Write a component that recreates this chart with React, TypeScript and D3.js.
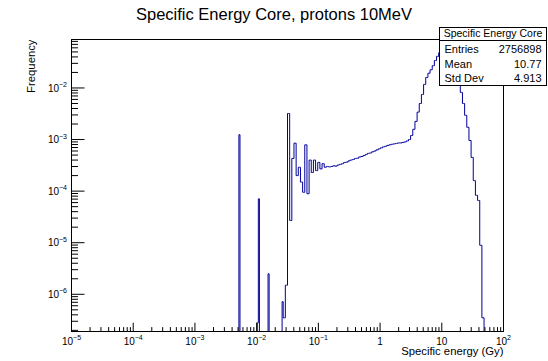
import React from "react";
import * as d3 from "d3";

const TITLE = "Specific Energy Core, protons 10MeV";
const X_TITLE = "Specific energy (Gy)";
const Y_TITLE = "Frequency";
const X_RANGE: [number, number] = [1e-5, 1e2];
const Y_RANGE: [number, number] = [1.9e-7, 0.087];
const N_BINS = 400;
const X_DECADES = [-5, -4, -3, -2, -1, 0, 1, 2];
const Y_DECADES = [-6, -5, -4, -3, -2];
const SPIKE_BINS = [155, 172, 173, 182, 195];
const SPIKE_VALUES = [1.24e-3, 2.8e-7, 7.1e-5, 2.5e-6, 7.2e-7];
const MAIN_FIRST_BIN = 196;
const MAIN_BIN_GROUP = 2;
const MAIN_VALUES = [
  3.5e-7, 1.5e-6, 3.2e-3, 2.7e-5, 4.3e-4, 8.5e-4, 2.0e-4, 2.9e-4, 1.5e-4, 9.5e-5,
  7.9e-4, 8.9e-5, 4.0e-4, 2.3e-4, 4.0e-4, 2.5e-4, 3.6e-4, 2.7e-4, 3.4e-4, 2.9e-4,
  3.0e-4, 2.95e-4, 3.0e-4, 3.1e-4, 3.05e-4, 3.2e-4, 3.3e-4, 3.4e-4, 3.6e-4, 3.65e-4,
  3.85e-4, 4.0e-4, 4.1e-4, 4.3e-4, 4.35e-4, 4.6e-4, 4.7e-4, 4.9e-4, 5.15e-4, 5.4e-4,
  5.5e-4, 5.8e-4, 6.0e-4, 6.3e-4, 6.6e-4, 6.9e-4, 7.2e-4, 7.4e-4, 7.7e-4, 7.9e-4,
  8.1e-4, 8.25e-4, 8.4e-4, 8.6e-4, 8.6e-4, 8.8e-4, 9.0e-4, 9.4e-4, 1.0e-3, 1.2e-3,
  1.58e-3, 2.25e-3, 3.4e-3, 5.0e-3, 7.5e-3, 1.17e-2, 1.6e-2, 1.93e-2, 2.25e-2, 2.7e-2,
  3.4e-2, 4.1e-2, 4.8e-2, 5.4e-2, 6.0e-2, 6.4e-2, 6.7e-2, 6.6e-2, 5.9e-2, 4.3e-2,
  2.6e-2, 1.4e-2, 8.2e-3, 5.0e-3, 2.95e-3, 1.73e-3, 9.6e-4, 4.5e-4, 1.6e-4, 8.3e-5,
  6.6e-5, 8.9e-6, 3.5e-7,
];
const STATS_TITLE = "Specific Energy Core";
const STATS_LABELS = ["Entries", "Mean", "Std Dev"];
const STATS_VALUES = ["2756898", "10.77", "4.913"];

const FONT = "'Liberation Sans', Arial, Helvetica, sans-serif";

export default function App() {
  const L = 71.5, R = 503.5, T = 39.5, B = 331.5;
  const x = d3.scaleLog().domain(X_RANGE).range([L, R]);
  const y = d3.scaleLog().domain(Y_RANGE).range([B, T]);

  const counts = new Array(N_BINS).fill(0);
  SPIKE_BINS.forEach((b, i) => (counts[b] = SPIKE_VALUES[i]));
  MAIN_VALUES.forEach((v, i) => {
    for (let j = 0; j < MAIN_BIN_GROUP; j++) counts[MAIN_FIRST_BIN + i * MAIN_BIN_GROUP + j] = v;
  });

  const lo = Math.log10(X_RANGE[0]);
  const hi = Math.log10(X_RANGE[1]);
  const w = (hi - lo) / N_BINS;
  const zeroY = B + 3;
  const pts: [number, number][] = [[x(X_RANGE[0]), zeroY]];
  counts.forEach((v, k) => {
    const yy = v > 0 ? y(v) : zeroY;
    pts.push([x(Math.pow(10, lo + k * w)), yy]);
    pts.push([x(Math.pow(10, lo + (k + 1) * w)), yy]);
  });
  pts.push([x(X_RANGE[1]), zeroY]);
  const path = d3.line()(pts) || "";

  const xMinor: number[] = [];
  for (let n = -5; n < 2; n++) for (let m = 2; m <= 9; m++) xMinor.push(m * Math.pow(10, n));
  const yMinor: number[] = [];
  for (let n = -7; n < 0; n++)
    for (let m = 2; m <= 9; m++) {
      const v = m * Math.pow(10, n);
      if (v >= Y_RANGE[0] && v <= Y_RANGE[1]) yMinor.push(v);
    }

  const sx = 439.5, sw = 107, sy = 27.5, sh = 58;

  return (
    <svg width={548} height={361} style={{ position: "absolute", left: 0, top: 0, background: "#fff" }} fontFamily={FONT}>
      <rect x={0} y={0} width={548} height={361} fill="#fff" />
      <defs>
        <clipPath id="plot">
          <rect x={L} y={T} width={R - L} height={B - T} />
        </clipPath>
      </defs>
      <text x={274} y={20} textAnchor="middle" fontSize={16.5} fill="#000">{TITLE}</text>
      <path d={path} fill="none" stroke="#000099" strokeWidth={1} clipPath="url(#plot)" />
      <rect x={L} y={T} width={R - L} height={B - T} fill="none" stroke="#000" strokeWidth={1} />
      {X_DECADES.map((e) => (
        <line key={"xM" + e} x1={x(Math.pow(10, e))} x2={x(Math.pow(10, e))} y1={B} y2={B - 8.8} stroke="#000" />
      ))}
      {xMinor.map((v, i) => (
        <line key={"xm" + i} x1={x(v)} x2={x(v)} y1={B} y2={B - 4.4} stroke="#000" />
      ))}
      {Y_DECADES.map((e) => (
        <line key={"yM" + e} x1={L} x2={L + 13} y1={y(Math.pow(10, e))} y2={y(Math.pow(10, e))} stroke="#000" />
      ))}
      {yMinor.map((v, i) => (
        <line key={"ym" + i} x1={L} x2={L + 6.5} y1={y(v)} y2={y(v)} stroke="#000" />
      ))}
      {X_DECADES.map((e) => (
        <text key={"xl" + e} x={x(Math.pow(10, e))} y={344.5} textAnchor="middle" fontSize={10} fill="#000">
          {e === 0 ? "1" : "10"}
          {e !== 0 && e !== 1 ? (
            <tspan fontSize={7} dy={-4.5}>{e < 0 ? "\u2212" + -e : String(e)}</tspan>
          ) : null}
        </text>
      ))}
      {Y_DECADES.map((e) => (
        <text key={"yl" + e} x={67} y={y(Math.pow(10, e)) + 3.6} textAnchor="end" fontSize={10} fill="#000">
          10
          <tspan fontSize={7} dy={-4.5}>{"\u2212" + -e}</tspan>
        </text>
      ))}
      <text x={R} y={355} textAnchor="end" fontSize={11.3} fill="#000">{X_TITLE}</text>
      <text transform={`translate(34.5,${T}) rotate(-90)`} textAnchor="end" fontSize={11.3} fill="#000">{Y_TITLE}</text>
      <rect x={sx} y={sy} width={sw} height={sh} fill="#fff" stroke="#000" strokeWidth={1} />
      <line x1={sx} x2={sx + sw} y1={40.5} y2={40.5} stroke="#000" />
      <text x={sx + sw / 2} y={37.3} textAnchor="middle" fontSize={10.5} fill="#000">{STATS_TITLE}</text>
      {STATS_LABELS.map((lab, i) => (
        <g key={lab}>
          <text x={444.5} y={53.3 + i * 14.5} fontSize={11} fill="#000">{lab}</text>
          <text x={541.5} y={53.3 + i * 14.5} textAnchor="end" fontSize={11} fill="#000">{STATS_VALUES[i]}</text>
        </g>
      ))}
    </svg>
  );
}
